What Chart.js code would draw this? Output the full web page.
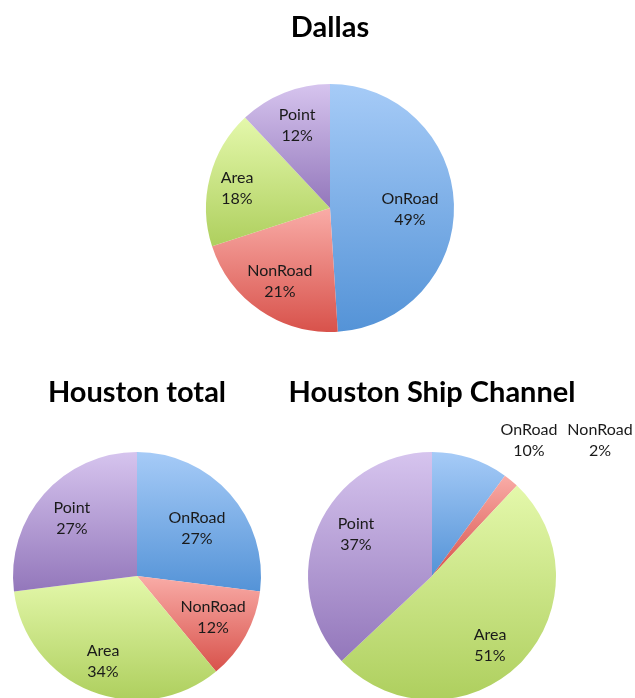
<!DOCTYPE html>
<html>
<head>
<meta charset="utf-8">
<script src="https://cdn.jsdelivr.net/npm/chart.js@4/dist/chart.umd.min.js"></script>
<style>
  html, body { margin: 0; padding: 0; background: #ffffff; overflow: hidden; }
  body { width: 635px; height: 698px; position: relative; }
  canvas { position: absolute; }
</style>
</head>
<body>
<canvas id="dallas" width="300" height="332" style="left:180px; top:0px;"></canvas>
<canvas id="houstonTotal" width="274" height="340" style="left:0px; top:360px;"></canvas>
<canvas id="shipChannel" width="353" height="340" style="left:282px; top:360px;"></canvas>
<script>
// Emission source categories (same order in every pie, clockwise from 12 o'clock)
const categories = ['OnRoad', 'NonRoad', 'Area', 'Point'];

// Percent share of each source category
const dallasValues = [49, 21, 18, 12];
const houstonTotalValues = [27, 12, 34, 27];
const shipChannelValues = [10, 2, 51, 37];

// Chart titles
const titles = ['Dallas', 'Houston total', 'Houston Ship Channel'];

// Slice gradient colours: light at the top of each slice, darker at the bottom
const topColors = ['#a6cbf7', '#f9aca7', '#e4f8ab', '#d6c4ee'];
const bottomColors = ['#5493d7', '#d8524b', '#aecf5e', '#9377bb'];

const FONT = 'Lato, "Open Sans", "DejaVu Sans", sans-serif';

// Vertical gradient spanning the bounding box of one slice
function sliceGradient(ctx) {
  const chart = ctx.chart;
  const area = chart.chartArea;
  const i = ctx.dataIndex;
  if (!area) return topColors[i];
  const data = ctx.dataset.data;
  const total = data.reduce((a, b) => a + b, 0);
  let before = 0;
  for (let k = 0; k < i; k++) before += data[k];
  const a0 = -Math.PI / 2 + before / total * Math.PI * 2;
  const a1 = a0 + data[i] / total * Math.PI * 2;
  const cx = (area.left + area.right) / 2;
  const cy = (area.top + area.bottom) / 2;
  const r = Math.min(area.right - area.left, area.bottom - area.top) / 2;
  const ys = [cy, cy + r * Math.sin(a0), cy + r * Math.sin(a1)];
  [-Math.PI / 2, Math.PI / 2, Math.PI * 1.5].forEach(a => {
    if (a >= a0 && a <= a1) ys.push(cy + r * Math.sin(a));
  });
  const y0 = Math.min(...ys), y1 = Math.max(...ys);
  const g = chart.ctx.createLinearGradient(0, y0, 0, Math.max(y1, y0 + 1));
  g.addColorStop(0, topColors[i]);
  g.addColorStop(1, bottomColors[i]);
  return g;
}

// Draws "Category / NN%" labels inside each slice, or at a given offset from the centre
const sliceLabels = {
  id: 'sliceLabels',
  afterDatasetsDraw(chart, args, opts) {
    const ctx = chart.ctx;
    const meta = chart.getDatasetMeta(0);
    const values = chart.data.datasets[0].data;
    const total = values.reduce((a, b) => a + b, 0);
    const offsets = opts.offsets || {};
    ctx.save();
    ctx.font = '16px ' + FONT;
    ctx.fillStyle = '#1a1a1a';
    ctx.textAlign = 'center';
    ctx.textBaseline = 'middle';
    meta.data.forEach((arc, i) => {
      const p = arc.getProps(['x', 'y', 'startAngle', 'endAngle', 'outerRadius'], true);
      let lx, ly;
      if (offsets[i]) {
        lx = p.x + offsets[i][0];
        ly = p.y + offsets[i][1];
      } else {
        const mid = (p.startAngle + p.endAngle) / 2;
        const d = p.outerRadius * (opts.distance || 0.7);
        lx = p.x + Math.cos(mid) * d;
        ly = p.y + Math.sin(mid) * d;
      }
      const pct = Math.round(values[i] / total * 100) + '%';
      ctx.fillText(chart.data.labels[i], lx, ly - 10.5);
      ctx.fillText(pct, lx, ly + 10.5);
    });
    ctx.restore();
  }
};

function makePie(id, title, values, titlePad, layoutPad, labelOpts) {
  return new Chart(document.getElementById(id), {
    type: 'pie',
    data: {
      labels: categories,
      datasets: [{
        data: values,
        backgroundColor: sliceGradient,
        borderWidth: 0
      }]
    },
    options: {
      responsive: false,
      animation: false,
      devicePixelRatio: 1,
      layout: { padding: layoutPad },
      plugins: {
        legend: { display: false },
        tooltip: { enabled: false },
        title: {
          display: true,
          text: title,
          color: '#000000',
          font: { family: FONT, size: 29, weight: 'bold', lineHeight: 1.2 },
          padding: titlePad
        },
        sliceLabels: labelOpts
      }
    },
    plugins: [sliceLabels]
  });
}

makePie('dallas', titles[0], dallasValues,
  { top: 10.6, bottom: 38.6 }, 0,
  { distance: 0.72, offsets: { 0: [80, 1], 2: [-93, -20] } });
makePie('houstonTotal', titles[1], houstonTotalValues,
  { top: 15.6, bottom: 41.6 }, 0,
  { distance: 0.7, offsets: { 0: [60, -48], 2: [-34, 85] } });
makePie('shipChannel', titles[2], shipChannelValues,
  { top: 15.6, bottom: 41.6 }, { right: 53 },
  { distance: 0.72, offsets: { 0: [97, -136], 1: [168, -136], 2: [58, 69], 3: [-76, -42] } });
</script>
</body>
</html>
